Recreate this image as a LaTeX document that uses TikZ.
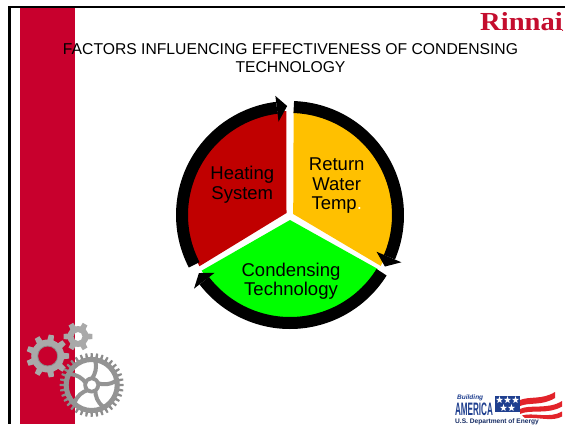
\documentclass[tikz,border=0pt]{standalone}
\usepackage{fontspec}
\setmainfont{Liberation Sans}
\newfontfamily\serifbf{Liberation Serif}[Scale=1]
\usetikzlibrary{calc}
\definecolor{bandred}{HTML}{C8002D}
\definecolor{brandred}{HTML}{C40D2E}
\definecolor{secred}{HTML}{C00000}
\definecolor{secorange}{HTML}{FFC000}
\definecolor{secgreen}{HTML}{00FF00}
\definecolor{gearlight}{HTML}{A9A9A9}
\definecolor{gearmid}{HTML}{949494}
\definecolor{geardark}{HTML}{8C8C8C}
\definecolor{navy}{HTML}{1F3F8F}
\definecolor{flagred}{HTML}{E2232A}
\newcommand{\gearteeth}[6]{% cx cy rroot rout n colour
  \foreach \k in {1,...,#5}{
    \pgfmathsetmacro{\ang}{360/#5*\k}
    \pgfmathsetmacro{\hw}{90/#5}
    \fill[#6] ($(#1,#2)+(\ang-\hw*1.2:#3-0.5)$) -- ($(#1,#2)+(\ang-\hw*0.7:#4)$) -- ($(#1,#2)+(\ang+\hw*0.7:#4)$) -- ($(#1,#2)+(\ang+\hw*1.2:#3-0.5)$) -- cycle;
  }}
\newcommand{\flagstar}[2]{\fill[white,shift={(#1,#2)}] (90:3.8)--(126:1.5)--(162:3.8)--(198:1.5)--(234:3.8)--(270:1.5)--(306:3.8)--(342:1.5)--(18:3.8)--(54:1.5)--cycle;}
\tikzset{
  ring/.style={draw=black,line width=12pt,line cap=butt},
  seclabel/.style={align=center,font=\fontsize{18.5}{19.6}\selectfont,text=black,inner sep=0pt},
}
\begin{document}
\begin{tikzpicture}[x=1pt,y=1pt]
\useasboundingbox (0,0) rectangle (565,424);
\fill[white] (0,0) rectangle (565,424);
% band and frame
\fill[bandred] (20.3,0) rectangle (75,417);
\fill[black] (8.3,0) rectangle (11,418);
\fill[black] (8.3,415.8) rectangle (565,418);
% title
\node[inner sep=0pt,align=center,font=\fontsize{15.7}{18.5}\selectfont] (title) at (290.5,366)
  {FACTORS INFLUENCING EFFECTIVENESS OF CONDENSING\\TECHNOLOGY};
% brand
\node[inner sep=0pt,anchor=base west,text=brandred,xscale=1.1,font=\serifbf\bfseries\fontsize{26}{26}\selectfont] (brand) at (480,393) {Rinnai};
\fill[brandred] (562.5,393.6) circle (0.6);
% pie
\begin{scope}[shift={(290,209)}]
  \fill[secred] (-3.5,2) -- (92:104) arc[start angle=92,end angle=209.5,radius=104] -- cycle;
  \fill[secorange] (3.2,1) -- (88:104) arc[start angle=88,end angle=-29.3,radius=104] -- cycle;
  \fill[secgreen] (0,-5) -- (-31.6:103) arc[start angle=-31.6,end angle=-147.3,radius=104] -- cycle;
  % ring arrows
  \draw[ring] (88:108) arc[start angle=88,end angle=-23,radius=108];
  \fill[black] (-23:94) -- (-23:121) -- (-28.5:108) -- cycle;
  \draw[ring] (-32:108) arc[start angle=-32,end angle=-142.5,radius=108];
  \fill[black] (-142.5:95) -- (-142.5:121) -- (-147.5:108) -- cycle;
  \draw[ring] (207.5:108) arc[start angle=207.5,end angle=97,radius=108];
  \fill[black] (97:94) -- (97:120) -- (91.5:109) -- cycle;
\end{scope}
\node[seclabel] (heating) at (242.3,239.3) {Heating\\System};
\node[seclabel] (return) at (336.7,238.3) {Return\\Water\\Temp\textcolor{white}{.}};
\node[seclabel] (cond) at (291,142.8) {Condensing\\Technology};
% gears
\gearteeth{47.7}{68}{16}{21.5}{9}{gearlight}
\fill[gearlight,even odd rule] (47.7,68) circle (16.5) (47.7,68) circle (10);
\draw[geardark,line width=0.8pt] (47.7,68) circle (10);
\gearteeth{78}{87.5}{10}{14.5}{6}{gearlight}
\fill[gearlight,even odd rule] (78,87.5) circle (10.5) (78,87.5) circle (4.5);
\gearteeth{91.7}{39}{27}{32}{36}{geardark}
\fill[gearmid,even odd rule] (91.7,39) circle (28) (91.7,39) circle (23);
\foreach \a in {18,90,162,234,306}{
  \draw[gearmid,line width=4pt] ($(91.7,39)+(\a:6)$) .. controls ($(91.7,39)+(\a-18:12)$) and ($(91.7,39)+(\a-18:18)$) .. ($(91.7,39)+(\a-8:24.5)$);
}
\fill[gearmid,even odd rule] (91.7,39) circle (8.5) (91.7,39) circle (4.8);
% logo
\node[inner sep=0pt,anchor=base west,font=\itshape\bfseries\fontsize{6.5}{6.5}\selectfont,text=navy] (bldg) at (457,24.5) {Building};
\node[inner sep=0pt,anchor=base west,font=\bfseries\fontsize{18}{18}\selectfont,text=navy,xscale=0.45] (america) at (455,8.5) {AMERICA};
\fill[navy] (495,12) rectangle (520,28);
\foreach \sx/\sy in {499.5/24,507.5/24,515.5/24,503.5/16,511.5/16}{\flagstar{\sx}{\sy}}
\fill[flagred] (520,24) .. controls (530,28) and (542,24) .. (555,32) -- (555,26) .. controls (542,18) and (530,22) .. (520,18) -- cycle;
\fill[flagred] (520,15) .. controls (530,20) and (548,14) .. (562,23) -- (562,17.5) .. controls (548,9) and (530,15) .. (520,10) -- cycle;
\fill[flagred] (522,8.5) .. controls (532,12) and (550,5) .. (562,12.5) -- (562,7.5) .. controls (552,2) and (540,7) .. (525,6) -- cycle;
\node[inner sep=0pt,anchor=base west,font=\bfseries\fontsize{6.6}{6.6}\selectfont,text=navy!70!black] (doe) at (455,0.5) {U.S. Department of Energy};
\end{tikzpicture}
\end{document}
